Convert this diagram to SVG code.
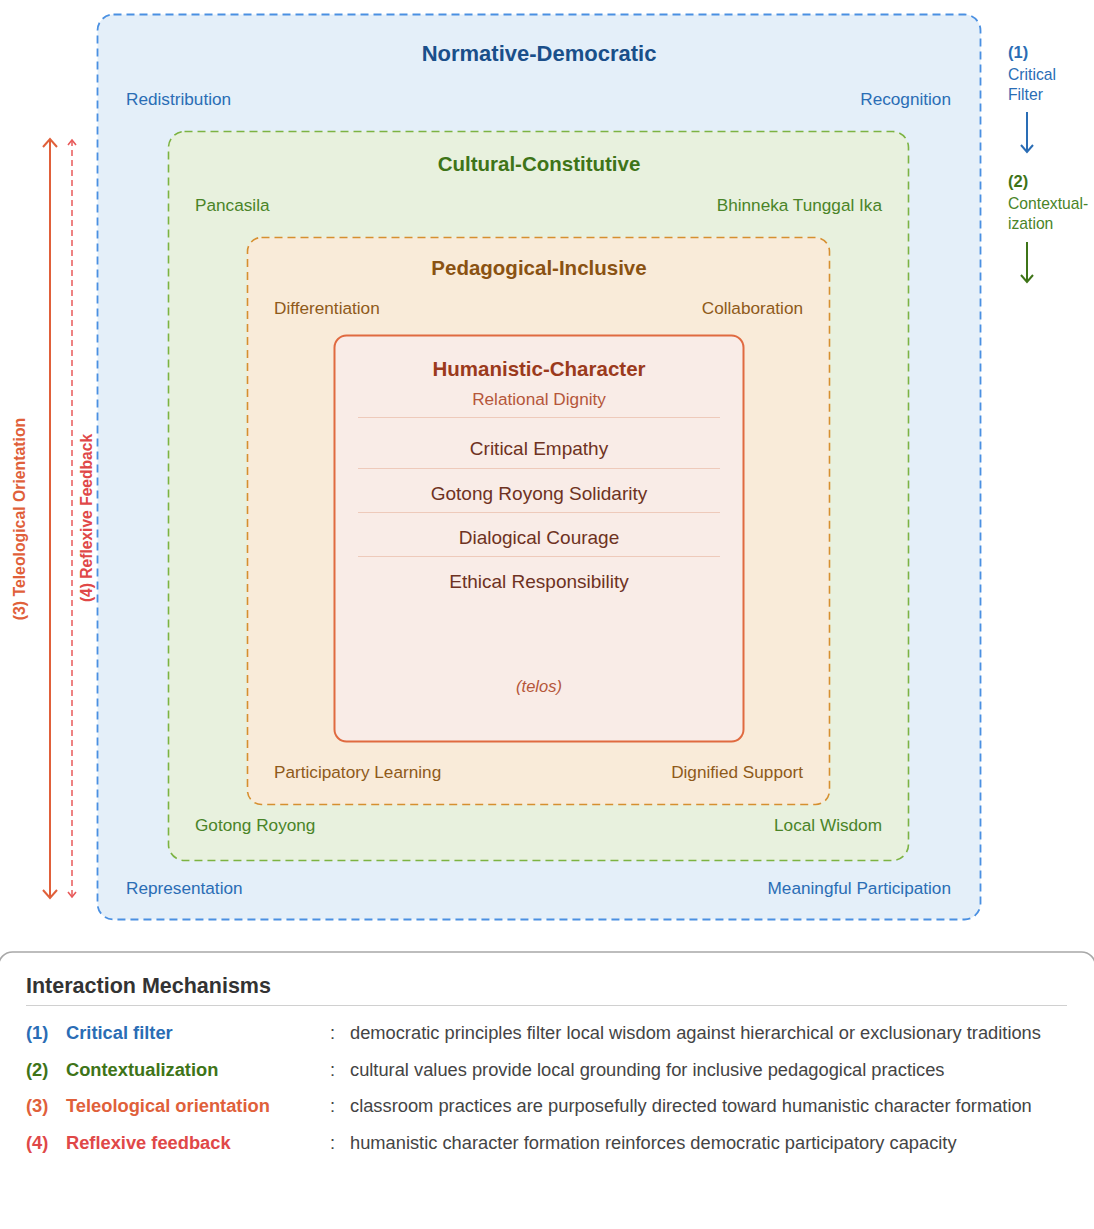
<svg xmlns="http://www.w3.org/2000/svg" width="1094" height="1229" viewBox="0 0 1094 1229">
<style>
text{font-family:"Liberation Sans",Arial,sans-serif}
.t{font-weight:bold;text-anchor:middle}
.nd{fill:#1a4f8a}.nb{fill:#2a6db5}
.cd{fill:#3e7418}.cb{fill:#4a8428}
.pd{fill:#8a5212}.pb{fill:#8f5a1a}
.hd{fill:#9b3a1c}.hm{fill:#b5563a}.hb{fill:#6e3222}
.end{text-anchor:end}
.sm{font-size:17.2px}
.it{font-size:19px;text-anchor:middle}
.sep{stroke:#eecabb;stroke-width:1}
.lg{font-size:18.3px;font-weight:bold}
.ds{font-size:18.3px;fill:#444}
</style>
<defs>
<marker id="aBlue" markerWidth="14" markerHeight="14" refX="12" refY="7" orient="auto-start-reverse" markerUnits="userSpaceOnUse"><path d="M5,1 L12,7 L5,13" fill="none" stroke="#2a6db5" stroke-width="2"/></marker>
<marker id="aGreen" markerWidth="14" markerHeight="14" refX="12" refY="7" orient="auto-start-reverse" markerUnits="userSpaceOnUse"><path d="M5,1 L12,7 L5,13" fill="none" stroke="#3e7418" stroke-width="2"/></marker>
<marker id="aOr" markerWidth="16" markerHeight="16" refX="14" refY="8" orient="auto-start-reverse" markerUnits="userSpaceOnUse"><path d="M6,1 L14,8 L6,15" fill="none" stroke="#e0603a" stroke-width="2"/></marker>
<marker id="aRed" markerWidth="12" markerHeight="12" refX="10" refY="6" orient="auto-start-reverse" markerUnits="userSpaceOnUse"><path d="M5,2 L10,6 L5,10" fill="none" stroke="#e85a5a" stroke-width="1.6"/></marker>
</defs>
<rect width="1094" height="1229" fill="#ffffff"/>

<g id="normative">
<rect x="97.5" y="14.5" width="883" height="905" rx="16" fill="#e4eff9" stroke="#4a90e2" stroke-width="1.8" stroke-dasharray="8,5"/>
<text x="539" y="61" class="t nd" font-size="22">Normative-Democratic</text>
<text x="126" y="105" class="nb sm">Redistribution</text>
<text x="951" y="105" class="nb end sm">Recognition</text>
<text x="126" y="894" class="nb sm">Representation</text>
<text x="951" y="894" class="nb end sm">Meaningful Participation</text>
</g>

<g id="cultural">
<rect x="168.5" y="131.5" width="740" height="729" rx="16" fill="#e8f1de" stroke="#7cb342" stroke-width="1.6" stroke-dasharray="8,5"/>
<text x="539" y="171" class="t cd" font-size="20.5">Cultural-Constitutive</text>
<text x="195" y="211" class="cb sm">Pancasila</text>
<text x="882" y="211" class="cb end sm">Bhinneka Tunggal Ika</text>
<text x="195" y="831" class="cb sm">Gotong Royong</text>
<text x="882" y="831" class="cb end sm">Local Wisdom</text>
</g>

<g id="pedagogical">
<rect x="247.5" y="237.5" width="582" height="567" rx="14" fill="#f9ebd9" stroke="#d68f30" stroke-width="1.6" stroke-dasharray="8,5"/>
<text x="539" y="275" class="t pd" font-size="20.5">Pedagogical-Inclusive</text>
<text x="274" y="314" class="pb sm">Differentiation</text>
<text x="803" y="314" class="pb end sm">Collaboration</text>
<text x="274" y="778" class="pb sm">Participatory Learning</text>
<text x="803" y="778" class="pb end sm">Dignified Support</text>
</g>

<g id="humanistic">
<rect x="334.5" y="335.5" width="409" height="406" rx="12" fill="#f9ece7" stroke="#e06a40" stroke-width="2"/>
<text x="539" y="376" class="t hd" font-size="20.5">Humanistic-Character</text>
<text x="539" y="405" class="hm sm" text-anchor="middle">Relational Dignity</text>
<line x1="358" y1="417.5" x2="720" y2="417.5" class="sep"/>
<text x="539" y="455" class="hb it">Critical Empathy</text>
<line x1="358" y1="468.5" x2="720" y2="468.5" class="sep"/>
<text x="539" y="500" class="hb it">Gotong Royong Solidarity</text>
<line x1="358" y1="512.5" x2="720" y2="512.5" class="sep"/>
<text x="539" y="544" class="hb it">Dialogical Courage</text>
<line x1="358" y1="556.5" x2="720" y2="556.5" class="sep"/>
<text x="539" y="588" class="hb it">Ethical Responsibility</text>
<text x="539" y="692" class="hm" font-size="16.5" font-style="italic" text-anchor="middle">(telos)</text>
</g>

<g id="connectors">
<line x1="1027" y1="112" x2="1027" y2="152" stroke="#2a6db5" stroke-width="2" marker-end="url(#aBlue)"/>
<line x1="1027" y1="242" x2="1027" y2="282" stroke="#3e7418" stroke-width="2" marker-end="url(#aGreen)"/>
<line x1="50" y1="139" x2="50" y2="898" stroke="#e0603a" stroke-width="2" marker-start="url(#aOr)" marker-end="url(#aOr)"/>
<line x1="72" y1="140" x2="72" y2="897" stroke="#e85a5a" stroke-width="1.5" stroke-dasharray="6,4" marker-start="url(#aRed)" marker-end="url(#aRed)"/>
</g>

<g id="side-labels">
<text x="1008" y="58" font-size="16.5" font-weight="bold" class="nb">(1)</text>
<text x="1008" y="80" font-size="15.7" class="nb">Critical</text>
<text x="1008" y="100" font-size="15.7" class="nb">Filter</text>
<text x="1008" y="187" font-size="16.5" font-weight="bold" class="cd">(2)</text>
<text x="1008" y="209" font-size="15.7" class="cb">Contextual-</text>
<text x="1008" y="229" font-size="15.7" class="cb">ization</text>
<text transform="translate(25,519) rotate(-90)" font-size="15.8" font-weight="bold" fill="#e0603a" text-anchor="middle">(3) Teleological Orientation</text>
<text transform="translate(92,518) rotate(-90)" font-size="15.6" font-weight="bold" fill="#e04848" text-anchor="middle">(4) Reflexive Feedback</text>
</g>

<g id="legend">
<rect x="-1.5" y="952" width="1097" height="400" rx="14" fill="#ffffff" stroke="#a8a8a8" stroke-width="1.6"/>
<text x="26" y="993" font-size="21.5" font-weight="bold" fill="#333">Interaction Mechanisms</text>
<line x1="26" y1="1005.5" x2="1067" y2="1005.5" stroke="#d0d0d0" stroke-width="1"/>
<text x="26" y="1039" class="lg" fill="#2a6db5">(1)</text>
<text x="66" y="1039" class="lg" fill="#2a6db5">Critical filter</text>
<text x="330" y="1039" class="ds">:</text>
<text x="350" y="1039" class="ds">democratic principles filter local wisdom against hierarchical or exclusionary traditions</text>
<text x="26" y="1076" class="lg" fill="#3e7418">(2)</text>
<text x="66" y="1076" class="lg" fill="#3e7418">Contextualization</text>
<text x="330" y="1076" class="ds">:</text>
<text x="350" y="1076" class="ds">cultural values provide local grounding for inclusive pedagogical practices</text>
<text x="26" y="1112" class="lg" fill="#e0603a">(3)</text>
<text x="66" y="1112" class="lg" fill="#e0603a">Teleological orientation</text>
<text x="330" y="1112" class="ds">:</text>
<text x="350" y="1112" class="ds">classroom practices are purposefully directed toward humanistic character formation</text>
<text x="26" y="1149" class="lg" fill="#e04848">(4)</text>
<text x="66" y="1149" class="lg" fill="#e04848">Reflexive feedback</text>
<text x="330" y="1149" class="ds">:</text>
<text x="350" y="1149" class="ds">humanistic character formation reinforces democratic participatory capacity</text>
</g>
</svg>
